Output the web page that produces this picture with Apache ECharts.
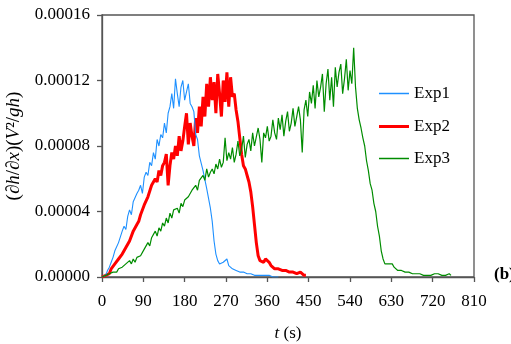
<!DOCTYPE html>
<html>
<head>
<meta charset="utf-8">
<script src="https://cdn.jsdelivr.net/npm/echarts@6/dist/echarts.min.js"></script>
<style>
  html, body { margin: 0; padding: 0; background: #fff; }
  #chart { width: 511px; height: 344px; }
</style>
</head>
<body>
<div id="chart"></div>
<script>
// Sampling interval of the recorded signals (seconds)
const SAMPLE_STEP = 4;
// Values below are stored in micro-units (×1e-6)
const UNIT = 1e-6;

// Non-dimensional surface slope (∂h/∂x)(V²/gh), one sample every 4 s from t = 0
const exp1Values = [
  0, 0, 1, 4, 6, 9, 12, 16, 15, 21,
  22, 28, 31, 29, 37, 41, 38, 46, 45, 51,
  53, 56, 51, 61, 64, 62, 70, 68, 76, 72,
  84, 80, 87, 85, 94, 88, 100, 104, 112, 103,
  121, 112, 104, 116, 120, 108, 113, 118, 106, 104,
  101, 87, 84, 74, 73, 65, 64, 54, 53, 42,
  34, 22, 14, 10, 8, 7, 9, 8, 11, 7,
  7, 5, 6, 4, 5, 3, 4, 3, 3, 2,
  3, 2, 2, 1, 2, 1, 1, 1, 1, 1,
  0, 1, 0, 0, 0, 0, 0
];

const exp2Values = [
  0, 0, 1, 2, 2, 5, 5, 8, 8, 11,
  11, 14, 14, 18, 18, 22, 22, 28, 27, 32,
  34, 38, 37, 44, 43, 49, 50, 56, 55, 60,
  58, 65, 62, 68, 70, 75, 56, 68, 76, 72,
  80, 74, 86, 77, 83, 92, 100, 81, 94, 86,
  80, 97, 88, 104, 92, 110, 98, 118, 104, 122,
  108, 119, 100, 124, 112, 98, 120, 107, 125, 104,
  122, 110, 112, 102, 95, 85, 75, 68, 66, 62,
  58, 52, 43, 32, 21, 13, 10, 9, 9, 11,
  10, 9, 7, 6, 5, 4, 5, 4, 4, 3,
  4, 3, 3, 2, 3, 2, 2, 2, 3, 2,
  1, 1
];

const exp3Values = [
  0, 0, 1, 1, 2, 1, 3, 4, 3, 5,
  4, 6, 5, 8, 7, 10, 8, 11, 9, 12,
  11, 13, 13, 17, 16, 21, 19, 24, 23, 28,
  25, 30, 28, 33, 31, 36, 33, 39, 36, 41,
  40, 42, 39, 45, 43, 47, 46, 49, 48, 53,
  52, 56, 53, 59, 58, 62, 59, 66, 61, 64,
  66, 63, 69, 66, 72, 67, 70, 85, 71, 76,
  72, 79, 70, 75, 83, 74, 78, 86, 73, 81,
  84, 77, 88, 80, 79, 91, 84, 70, 88, 85,
  92, 83, 86, 96, 88, 84, 97, 90, 99, 86,
  95, 101, 89, 94, 103, 92, 98, 104, 96, 76,
  102, 108, 98, 113, 106, 117, 103, 120, 110, 116,
  124, 101, 118, 127, 108, 122, 104, 128, 116, 125,
  130, 112, 121, 133, 114, 126, 118, 140, 116, 103,
  96, 91, 85, 80, 71, 65, 57, 53, 45, 40,
  31, 25, 16, 11, 8, 7, 8, 9, 8, 6,
  5, 4, 5, 4, 4, 3, 4, 3, 3, 2,
  2, 2, 1, 2, 1, 1, 1, 1, 1, 1,
  1, 2, 1, 2, 1, 1, 2, 1, 1, 2,
  1
];

const seriesNames = ['Exp1', 'Exp2', 'Exp3'];
const seriesColors = ['#1E90FF', '#FF0000', '#008C00'];
const seriesWidths = [1.1, 3, 1.2];
// drawing order: the thick red trace sits underneath the thin ones
const seriesZ = [3, 2, 4];
const xTicks = [0, 90, 180, 270, 360, 450, 540, 630, 720, 810];
const yTicks = [0, 0.00004, 0.00008, 0.00012, 0.00016];

const SERIF = '"Liberation Serif", "Times New Roman", serif';
const AXIS_COLOR = '#555555';
const FONT_SIZE = 17;

function toPairs(values) {
  return values.map((v, i) => [i * SAMPLE_STEP, v * UNIT]);
}

// one legend block per entry so each key line can have its own thickness
const legendTops = [80, 113, 145];
const legendIconHeights = [1.5, 3, 1.5];
const legends = seriesNames.map((name, k) => ({
  orient: 'vertical',
  left: 374, top: legendTops[k],
  icon: 'rect',
  itemWidth: 30, itemHeight: legendIconHeights[k],
  textStyle: { fontFamily: SERIF, fontSize: FONT_SIZE, color: '#000' },
  data: [name]
}));

const chart = echarts.init(document.getElementById('chart'), null, { renderer: 'canvas' });

chart.setOption({
  animation: false,
  backgroundColor: '#ffffff',
  grid: {
    left: 102, right: 37, top: 15, bottom: 67,
    outerBoundsMode: 'none', containLabel: false,
    show: true, borderColor: AXIS_COLOR, borderWidth: 1.3, backgroundColor: 'transparent'
  },
  legend: legends,
  xAxis: {
    type: 'value',
    min: xTicks[0], max: xTicks[xTicks.length - 1], interval: 90,
    axisLine: { lineStyle: { color: AXIS_COLOR, width: 1.3 } },
    axisTick: { show: true, length: 5, lineStyle: { color: AXIS_COLOR, width: 1.3 } },
    axisLabel: { fontFamily: SERIF, fontSize: FONT_SIZE, color: '#000', margin: 16 },
    splitLine: { show: false },
    name: '{i|t} (s)',
    nameLocation: 'middle', nameGap: 48,
    nameTextStyle: {
      fontFamily: SERIF, fontSize: FONT_SIZE, color: '#000',
      rich: { i: { fontFamily: SERIF, fontSize: FONT_SIZE, fontStyle: 'italic', color: '#000' } }
    }
  },
  yAxis: {
    type: 'value',
    min: yTicks[0], max: yTicks[yTicks.length - 1], interval: 0.00004,
    axisLine: { show: true, lineStyle: { color: AXIS_COLOR, width: 1.3 } },
    axisTick: { show: true, length: 5, lineStyle: { color: AXIS_COLOR, width: 1.3 } },
    axisLabel: {
      fontFamily: SERIF, fontSize: FONT_SIZE, color: '#000', margin: 12,
      formatter: v => v.toFixed(5)
    },
    splitLine: { show: false },
    name: '(∂{i|h}/∂{i|x})({i|V}²/{i|gh})',
    nameLocation: 'middle', nameGap: 74, nameRotate: 90,
    nameTextStyle: {
      fontFamily: SERIF, fontSize: 19, color: '#000',
      rich: { i: { fontFamily: SERIF, fontSize: 19, fontStyle: 'italic', color: '#000' } }
    }
  },
  graphic: [{
    type: 'text', left: 494, top: 266,
    style: { text: '(b)', font: 'bold 17px ' + SERIF, fill: '#000' }
  }],
  series: [exp1Values, exp2Values, exp3Values].map((vals, k) => ({
    name: seriesNames[k], type: 'line', data: toPairs(vals),
    symbol: 'none', z: seriesZ[k],
    lineStyle: { color: seriesColors[k], width: seriesWidths[k] },
    itemStyle: { color: seriesColors[k] }
  }))
});
</script>
</body>
</html>
